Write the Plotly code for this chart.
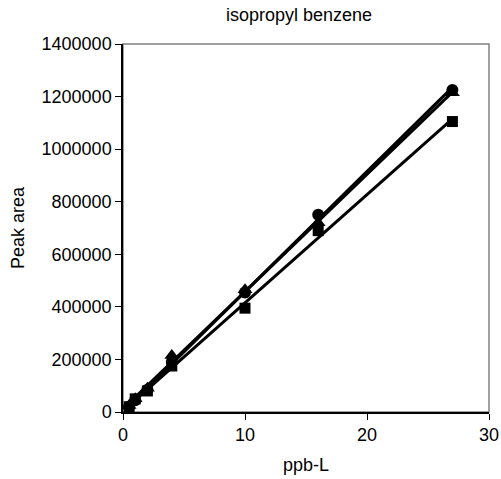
import numpy as np
import plotly.graph_objects as go

conc = [0.5, 1, 2, 4, 10, 16, 27]
circle_vals = [20000, 45000, 85000, 190000, 455000, 750000, 1225000]
triangle_vals = [25000, 50000, 90000, 215000, 465000, 720000, 1215000]
square_vals = [20000, 50000, 80000, 175000, 395000, 690000, 1105000]

series = [
    ("circle", circle_vals, 12),
    ("triangle-up", triangle_vals, 13),
    ("square", square_vals, 11),
]

fig = go.Figure()
x = np.array(conc, dtype=float)
for sym, vals, sz in series:
    m, b = np.polyfit(x, np.array(vals, dtype=float), 1)
    xs = [x.min(), x.max()]
    fig.add_trace(go.Scatter(x=xs, y=[m * v + b for v in xs], mode="lines",
                             line=dict(color="black", width=3), showlegend=False,
                             hoverinfo="skip"))
for sym, vals, sz in series:
    fig.add_trace(go.Scatter(x=conc, y=vals, mode="markers",
                             marker=dict(symbol=sym, size=sz, color="black"),
                             showlegend=False))

fig.add_shape(type="rect", xref="x domain", yref="y domain", x0=0, x1=1, y0=0, y1=1,
              line=dict(color="#808080", width=1.5), layer="below")

fig.update_layout(
    width=501, height=479,
    margin=dict(l=123, r=12, t=44, b=67),
    paper_bgcolor="white", plot_bgcolor="white",
    font=dict(family="Liberation Sans, Arial", size=18, color="black"),
    title=dict(text="isopropyl benzene", x=0.597, xanchor="center", xref="container",
               y=1 - 15 / 479, yanchor="middle", font=dict(size=18)),
    xaxis=dict(range=[0, 30], tickvals=[0, 10, 20, 30], showgrid=False, zeroline=False,
               showline=True, linecolor="black", linewidth=1.5, ticks="outside",
               ticklen=6, tickcolor="black", automargin=False,
               title=dict(text="ppb-L", font=dict(size=18), standoff=14)),
    yaxis=dict(range=[0, 1400000], tickvals=list(range(0, 1400001, 200000)),
               tickformat="d", showgrid=False, zeroline=False, automargin=False,
               showline=True, linecolor="black", linewidth=1.5, ticks="outside",
               ticklen=6, tickcolor="black",
               title=dict(text="Peak area", font=dict(size=18), standoff=12)),
)

fig.write_html("out.html")
